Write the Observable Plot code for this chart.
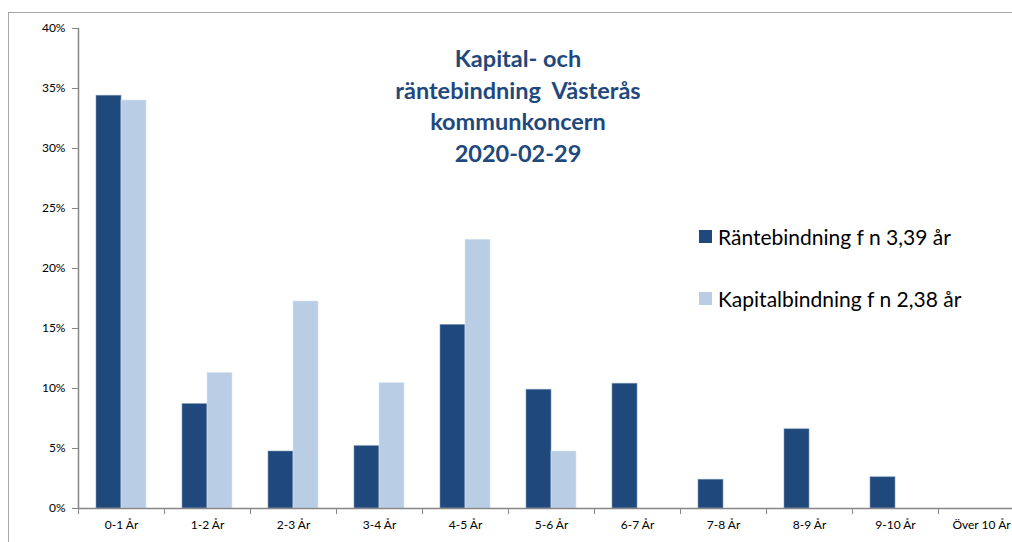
<!DOCTYPE html>
<html>
<head>
<meta charset="utf-8">
<script src="https://cdn.jsdelivr.net/npm/d3@7"></script>
<script src="https://cdn.jsdelivr.net/npm/@observablehq/plot@0.6"></script>
<style>
  html, body { margin: 0; padding: 0; background: #fff; overflow: hidden; }
  #wrap { position: relative; width: 1012px; height: 542px; font-family: Lato, "Open Sans", sans-serif; }
  #frame { position: absolute; left: 8px; top: 12px; right: -5px; bottom: -5px; border-left: 1px solid #a6a6a6; border-top: 1px solid #a6a6a6; }
  #chart { position: absolute; left: 0; top: 0; }
  #title { position: absolute; left: 368px; width: 300px; top: 43px; text-align: center; color: #1f497d; font-weight: bold; font-size: 23.5px; line-height: 31.5px; }
  .leg { position: absolute; left: 699px; font-size: 21px; color: #000; display: flex; align-items: center; white-space: nowrap; }
  .sw { width: 13px; height: 13px; margin-right: 6px; display: inline-block; }
</style>
</head>
<body>
<div id="wrap">
  <div id="frame"></div>
  <div id="chart"></div>
  <div id="title">Kapital- och<br>räntebindning&nbsp; Västerås<br>kommunkoncern<br>2020-02-29</div>
  <div class="leg" style="top:224px"><span class="sw" style="background:#1f497d"></span>Räntebindning f n 3,39 år</div>
  <div class="leg" style="top:286px"><span class="sw" style="background:#b9cde5"></span>Kapitalbindning f n 2,38 år</div>
</div>
<script>
const categories = ["0-1 År","1-2 År","2-3 År","3-4 År","4-5 År","5-6 År","6-7 År","7-8 År","8-9 År","9-10 År","Över 10 År"];
const ranteValues = [34.4, 8.7, 4.75, 5.2, 15.3, 9.9, 10.4, 2.4, 6.6, 2.6, 0];
const kapitalValues = [34.0, 11.3, 17.25, 10.45, 22.4, 4.75, 0, 0, 0, 0, 0];
const yTicks = [0, 5, 10, 15, 20, 25, 30, 35, 40];
const seriesNames = ["Räntebindning f n 3,39 år", "Kapitalbindning f n 2,38 år"];
const colors = ["#1f497d", "#b9cde5"];

const rante = categories.map((c, i) => ({cat: c, value: ranteValues[i]}));
const kapital = categories.map((c, i) => ({cat: c, value: kapitalValues[i]}));
const boundaries = categories.slice(1);

const axisColor = "#868686";

const plot = Plot.plot({
  width: 1012,
  height: 542,
  marginLeft: 78,
  marginRight: -12,
  marginTop: 28,
  marginBottom: 34,
  style: {fontFamily: "Lato, 'Open Sans', sans-serif", fontSize: "12px", color: "#000", background: "transparent", overflow: "visible"},
  x: {domain: categories, padding: 0},
  y: {domain: [0, 40]},
  marks: [
    Plot.barY(rante, {x: "cat", y: "value", fill: colors[0], insetLeft: 18, insetRight: 43, stroke: "#7f97b8", strokeWidth: 0.6}),
    Plot.barY(kapital.filter(d => d.value > 0), {x: "cat", y: "value", fill: colors[1], insetLeft: 43, insetRight: 18, stroke: "#dbe5f1", strokeWidth: 0.6}),
    Plot.ruleY([0], {stroke: axisColor, strokeWidth: 1.5}),
    Plot.frame({anchor: "left", stroke: axisColor, strokeWidth: 1.5}),
    Plot.ruleX([categories[0]], {x: d => d, dx: -43, y1: 0, y2: -0.5, stroke: axisColor}),
    Plot.ruleX(boundaries, {x: d => d, dx: -43, y1: 0, y2: -0.5, stroke: axisColor}),
    Plot.axisY({ticks: yTicks, tickFormat: d => d + "%", tickSize: 6, tickPadding: 7, stroke: axisColor, label: null, fill: "#000", fontSize: 12}),
    Plot.axisX({tickSize: 0, tickPadding: 12, label: null, fontSize: 12, fill: "#000"})
  ]
});
document.getElementById("chart").appendChild(plot);
</script>
</body>
</html>
